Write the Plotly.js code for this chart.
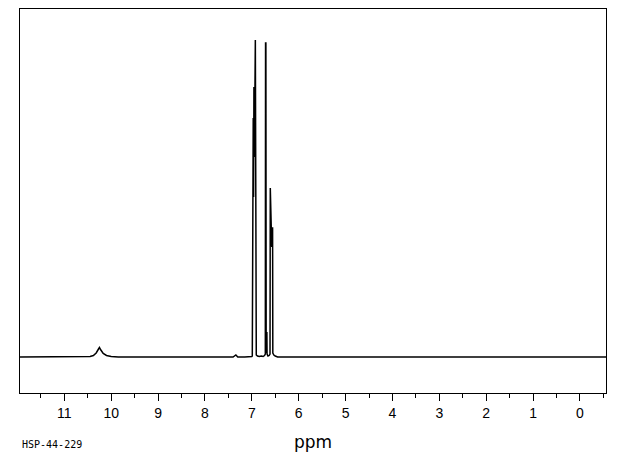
<!DOCTYPE html>
<html>
<head>
<meta charset="utf-8">
<script src="https://cdn.plot.ly/plotly-3.0.1.min.js"></script>
<style>html,body{margin:0;padding:0;background:#fff;}#chart{width:620px;height:455px;}</style>
</head>
<body>
<div id="chart"></div>
<script>
// Spectrum trace points (chemical shift in ppm, intensity above baseline)
const shiftPpm = [
  11.945, 11.5, 11.0, 10.7, 10.6, 10.45, 10.38, 10.32, 10.27, 10.25, 10.22, 10.17, 10.10, 10.00, 9.85, 9.5,
  9.0, 8.5, 8.0, 7.6, 7.40, 7.34, 7.30, 7.15, 7.05, 7.00,
  6.990, 6.986, 6.978, 6.970, 6.962, 6.955, 6.945, 6.925, 6.918, 6.905, 6.88, 6.84, 6.80, 6.76, 6.73, 6.712,
  6.707, 6.700, 6.694, 6.684, 6.679, 6.675, 6.655, 6.63, 6.612,
  6.606, 6.598, 6.590, 6.585, 6.575, 6.565, 6.557, 6.552, 6.53, 6.50, 6.45, 6.3, 6.0,
  5.0, 4.0, 3.0, 2.0, 1.0, 0.0, -0.555
];
const intensity = [
  0, 0, 0, 0, 0, 0.5, 1.5, 4, 8, 9.5, 7, 3.5, 1.5, 0.5, 0, 0,
  0, 0, 0, 0, 0, 2, 0, 0, 0, 0.5,
  1, 239, 150, 239, 160, 270, 200, 317, 8, 2, 1, 0.5, 1, 0.5, 1.5, 3,
  314, 314, 4, 25, 25, 3, 1, 1.5, 3,
  169, 150, 169, 129, 110, 129, 129, 4, 2, 1, 0, 0, 0,
  0, 0, 0, 0, 0, 0, 0
];
const tickValues = [0, 1, 2, 3, 4, 5, 6, 7, 8, 9, 10, 11];
const tickLabels = ["0", "1", "2", "3", "4", "5", "6", "7", "8", "9", "10", "11"];
const axisLabel = "ppm";
const sampleCode = "HSP-44-229";

const trace = {
  x: shiftPpm,
  y: intensity,
  type: "scatter",
  mode: "lines",
  line: {color: "#000000", width: 1.5},
  hoverinfo: "skip"
};

const layout = {
  width: 620,
  height: 455,
  margin: {l: 20, r: 14, t: 9, b: 62, pad: 0},
  paper_bgcolor: "#ffffff",
  plot_bgcolor: "#ffffff",
  showlegend: false,
  font: {family: "DejaVu Sans, sans-serif", color: "#000000"},
  xaxis: {
    range: [11.945, -0.555],
    tickmode: "array",
    tickvals: tickValues,
    ticktext: tickLabels,
    ticks: "outside",
    ticklen: 7,
    tickwidth: 1,
    tickcolor: "#000000",
    tickfont: {family: "Liberation Sans, sans-serif", size: 14, color: "#000000"},
    minor: {dtick: 0.5, tick0: 0, ticks: "outside", ticklen: 4, tickwidth: 1, tickcolor: "#000000", showgrid: false},
    showline: true,
    linecolor: "#000000",
    linewidth: 1,
    mirror: true,
    showgrid: false,
    zeroline: false,
    title: {text: axisLabel, font: {family: "DejaVu Sans, sans-serif", size: 17, color: "#000000"}, standoff: 16}
  },
  yaxis: {
    range: [-36, 348],
    showticklabels: false,
    ticks: "",
    showline: true,
    linecolor: "#000000",
    linewidth: 1,
    mirror: true,
    showgrid: false,
    zeroline: false
  },
  annotations: [{
    text: sampleCode,
    xref: "paper", yref: "paper",
    x: 0, y: -0.133,
    xanchor: "left", yanchor: "middle",
    showarrow: false,
    font: {family: "DejaVu Sans Mono, monospace", size: 10, color: "#000000"}
  }]
};

Plotly.newPlot("chart", [trace], layout, {displayModeBar: false, staticPlot: true});
</script>
</body>
</html>
